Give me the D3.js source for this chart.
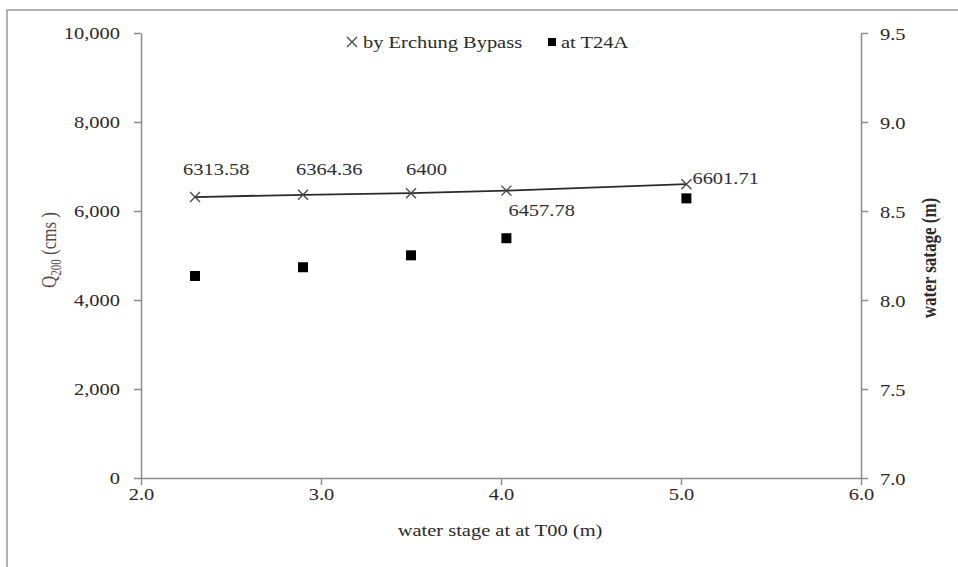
<!DOCTYPE html>
<html>
<head>
<meta charset="utf-8">
<script src="https://cdn.jsdelivr.net/npm/d3@7"></script>
<style>
  body { margin: 0; background: #fff; }
  text { font-family: "Liberation Serif", "Times New Roman", serif; }
</style>
</head>
<body>
<div id="chart"></div>
<script>
// values
const stageT00 = [2.30, 2.90, 3.50, 4.03, 5.03];
const qBypass = [6313.58, 6364.36, 6400, 6457.78, 6601.71];
const stageT24A = [8.135, 8.184, 8.251, 8.347, 8.571];
const qLabels = ["6313.58", "6364.36", "6400", "6457.78", "6601.71"];
const xTicks = [2, 3, 4, 5, 6];
const yLeftTicks = [0, 2000, 4000, 6000, 8000, 10000];
const yRightTicks = [7.0, 7.5, 8.0, 8.5, 9.0, 9.5];
const seriesNames = ["by Erchung Bypass", "at T24A"];

//svg container
const svgWidth = 958, svgHeight = 567;
const margin = {top: 33, right: 97, bottom: 89, left: 141};
const width = svgWidth - margin.left - margin.right;
const height = svgHeight - margin.top - margin.bottom;
// the picture is stretched sideways, so glyphs get widened
const stretch = 1.28;
const axisColor = "#8c8c8c";
const tickColor = "#2e2626";

const svg = d3.select("#chart")
  .append("svg")
  .attr("width", svgWidth)
  .attr("height", svgHeight);

svg.append("rect").attr("width", svgWidth).attr("height", svgHeight).attr("fill", "#fff");

// outer frame (runs off the right and bottom of the picture)
svg.append("path")
  .attr("d", `M7,${svgHeight}V10H${svgWidth}`)
  .attr("fill", "none")
  .attr("stroke", "#9a9a9a")
  .attr("stroke-width", 1.5);

const chartGroup = svg.append("g")
  .attr("transform", `translate(${margin.left}, ${margin.top})`);

// scales
const xScale = d3.scaleLinear().domain([2, 6]).range([0, width]);
const yLeft = d3.scaleLinear().domain([0, 10000]).range([height, 0]);
const yRight = d3.scaleLinear().domain([7, 9.5]).range([height, 0]);

function styleAxis(g) {
  g.select(".domain").attr("stroke", axisColor).attr("stroke-width", 1.5);
  g.selectAll(".tick line").attr("stroke", axisColor).attr("stroke-width", 1.5);
  g.selectAll(".tick text")
    .attr("fill", tickColor)
    .style("font-size", "16px")
    .attr("x", null).attr("y", null).attr("dy", "0.35em");
}

// left axis
const leftAxis = chartGroup.append("g")
  .call(d3.axisLeft(yLeft).tickValues(yLeftTicks).tickFormat(d3.format(",")).tickSize(7).tickSizeOuter(0))
  .call(styleAxis);
leftAxis.selectAll(".tick text")
  .attr("text-anchor", "end")
  .attr("transform", `translate(-21,0) scale(${stretch},1)`);

// right axis
const rightAxis = chartGroup.append("g")
  .attr("transform", `translate(${width},0)`)
  .call(d3.axisRight(yRight).tickValues(yRightTicks).tickFormat(d3.format(".1f")).tickSize(7).tickSizeOuter(0))
  .call(styleAxis);
rightAxis.selectAll(".tick text")
  .attr("text-anchor", "start")
  .attr("transform", `translate(19,1) scale(${stretch},1)`);

// bottom axis
const bottomAxis = chartGroup.append("g")
  .attr("transform", `translate(0,${height})`)
  .call(d3.axisBottom(xScale).tickValues(xTicks).tickFormat(d3.format(".1f")).tickSize(7).tickSizeOuter(0))
  .call(styleAxis);
bottomAxis.selectAll(".tick text")
  .attr("text-anchor", "middle")
  .attr("transform", `translate(0,16) scale(${stretch},1)`);

// axis titles
svg.append("text")
  .attr("transform", `translate(500,530) scale(${stretch},1)`)
  .attr("text-anchor", "middle")
  .attr("dy", "0.35em")
  .attr("fill", "#2a2a2a")
  .style("font-size", "16px")
  .text("water stage at at T00 (m)");

const qTitle = svg.append("text")
  .attr("transform", `translate(48,250) rotate(-90) scale(1,${stretch})`)
  .attr("text-anchor", "middle")
  .attr("dy", "0.35em")
  .attr("fill", "#5a4646")
  .style("font-size", "17px");
qTitle.append("tspan").text("Q");
qTitle.append("tspan").attr("dy", 4).style("font-size", "11px").text("200");
qTitle.append("tspan").attr("dy", -4).text(" (cms )");

svg.append("text")
  .attr("transform", `translate(928,258) rotate(-90) scale(1,${stretch})`)
  .attr("text-anchor", "middle")
  .attr("dy", "0.35em")
  .attr("fill", "#2a2a2a")
  .style("font-size", "17px")
  .style("font-weight", "bold")
  .text("water satage (m)");

// line through the bypass points
const line = d3.line()
  .x((d, i) => xScale(stageT00[i]))
  .y(d => yLeft(d));

chartGroup.append("path")
  .datum(qBypass)
  .attr("d", line)
  .attr("fill", "none")
  .attr("stroke", "#2b2b2b")
  .attr("stroke-width", 1.8);

const crossPath = "M-5,-5L5,5M-5,5L5,-5";

chartGroup.append("g")
  .selectAll("path")
  .data(qBypass)
  .enter()
  .append("path")
  .attr("transform", (d, i) => `translate(${xScale(stageT00[i])},${yLeft(d)})`)
  .attr("d", crossPath)
  .attr("stroke", "#4a4a4a")
  .attr("stroke-width", 1.4)
  .attr("fill", "none");

// squares on the right axis
chartGroup.append("g")
  .selectAll("rect")
  .data(stageT24A)
  .enter()
  .append("rect")
  .attr("x", (d, i) => xScale(stageT00[i]) - 5)
  .attr("y", d => yRight(d) - 5)
  .attr("width", 10)
  .attr("height", 10)
  .attr("fill", "#000");

// data labels, nudged like in the picture
const labelNudge = [[-12, -28], [-7, -25], [-5, -24], [2, 20], [6, -6]];
chartGroup.append("g")
  .selectAll("text")
  .data(qBypass)
  .enter()
  .append("text")
  .attr("transform", (d, i) =>
    `translate(${xScale(stageT00[i]) + labelNudge[i][0]},${yLeft(d) + labelNudge[i][1]}) scale(${stretch},1)`)
  .attr("dy", "0.35em")
  .attr("fill", "#2e2e36")
  .style("font-size", "16px")
  .text((d, i) => qLabels[i]);

// legend
const legend = svg.append("g");
legend.append("path")
  .attr("transform", "translate(352,42)")
  .attr("d", crossPath)
  .attr("stroke", "#4a4a4a")
  .attr("stroke-width", 1.4);
legend.append("text")
  .attr("transform", `translate(363,42) scale(${stretch},1)`)
  .attr("dy", "0.35em")
  .attr("fill", "#2a2a2a")
  .style("font-size", "16px")
  .text(seriesNames[0]);
legend.append("rect")
  .attr("x", 548).attr("y", 38)
  .attr("width", 8).attr("height", 8)
  .attr("fill", "#000");
legend.append("text")
  .attr("transform", `translate(561,42) scale(${stretch},1)`)
  .attr("dy", "0.35em")
  .attr("fill", "#2a2a2a")
  .style("font-size", "16px")
  .text(seriesNames[1]);
</script>
</body>
</html>
